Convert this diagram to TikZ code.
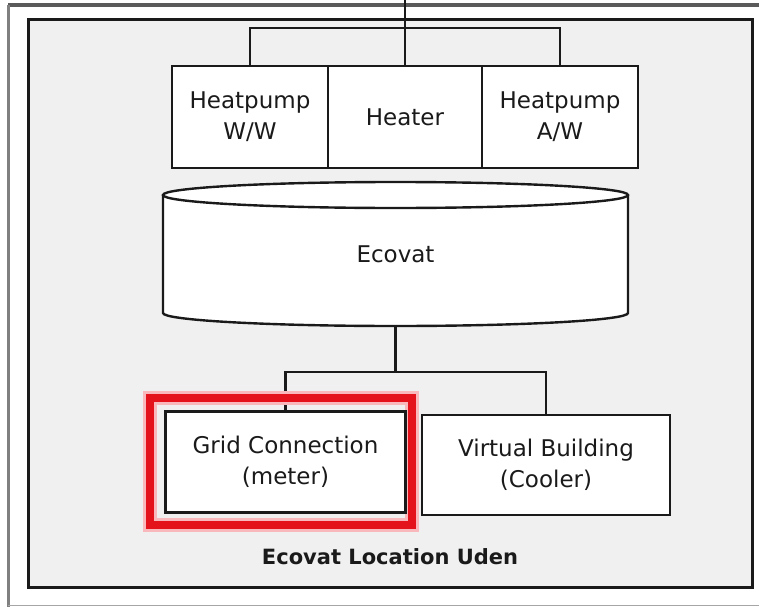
\documentclass[tikz,border=0pt]{standalone}
\usepackage{fontspec}
\setmainfont{DejaVu Sans}
\usepackage{tikz}
\usepackage{xcolor}
\usetikzlibrary{positioning,calc}
\definecolor{ink}{HTML}{1A1A1A}
\definecolor{panel}{HTML}{F0F0F0}
\definecolor{edgegray}{HTML}{5A5A5A}
\definecolor{hired}{HTML}{E3121B}
\definecolor{higlow}{HTML}{F8B8BC}
\tikzset{
  unitbox/.style={
    draw=ink, fill=white, line width=2.4pt, rectangle,
    inner sep=0pt, align=center, text=ink,
    font=\fontsize{23}{31}\selectfont
  },
  wire/.style={draw=ink, line width=2.4pt},
  hilite/.style={draw=hired, line width=8pt},
  glow/.style={draw=higlow, line width=14pt}
}
\begin{document}
\begin{tikzpicture}[x=1pt,y=-1pt]
      \useasboundingbox (0,0) rectangle (759,607);
      \fill[white] (0,0) rectangle (759,607);
      \draw[edgegray,line width=4pt] (8,5) -- (759,5);
      \draw[gray,line width=3pt] (8.5,5) -- (8.5,607);
      \draw[gray!70,line width=1.5pt] (8,605.5) -- (759,605.5);
      \draw[ink,fill=panel,line width=3pt] (28.5,19.5) rectangle (752.5,587);

      \foreach \nm/\cx/\bw/\lab in {ww/250/156/{Heatpump\\W/W},heater/405/154/{Heater},aw/560/156/{Heatpump\\A/W}} {
        \node[unitbox,minimum width=\bw pt,minimum height=102pt] (\nm) at (\cx,117) {\lab};
      }
      \coordinate (feed) at (405,0);
      \coordinate (topbus) at (405,28);
      \draw[wire] (feed) -- (heater.north);
      \draw[wire] (ww.north) |- (topbus) -| (aw.north);

      \fill[white] (163,195) rectangle (628,313);
      \fill[white] (395.5,195) ellipse [x radius=232.5,y radius=13];
      \fill[white] (395.5,313) ellipse [x radius=232.5,y radius=13];
      \draw[wire] (395.5,195) ellipse [x radius=232.5,y radius=13];
      \draw[wire] (163,195) -- (163,313) arc[start angle=180,end angle=0,x radius=232.5,y radius=13] -- (628,195);
      \node[font=\fontsize{23}{31}\selectfont,text=ink] (vat) at (395.5,254) {Ecovat};
      \coordinate (vatbot) at (395.5,326);
      \coordinate (lowbus) at (395.5,372);

      \node[unitbox,minimum width=239pt,minimum height=100pt] (grid) at (285.5,462) {Grid Connection\\(meter)};
      \node[unitbox,minimum width=248pt,minimum height=100pt] (virt) at (546,465) {Virtual Building\\(Cooler)};
      \draw[wire] (vatbot) -- (lowbus);
      \draw[wire] (grid.north) |- (lowbus) -| (virt.north);

      \draw[glow] (150,398) rectangle (412,525);
      \draw[hilite] (150,398) rectangle (412,525);
      \draw[wire] (grid.south west) rectangle (grid.north east);

      \node[font=\bfseries\fontsize{21}{25}\selectfont,text=ink] (loc) at (390,557) {Ecovat Location Uden};
    \end{tikzpicture}
\end{document}
